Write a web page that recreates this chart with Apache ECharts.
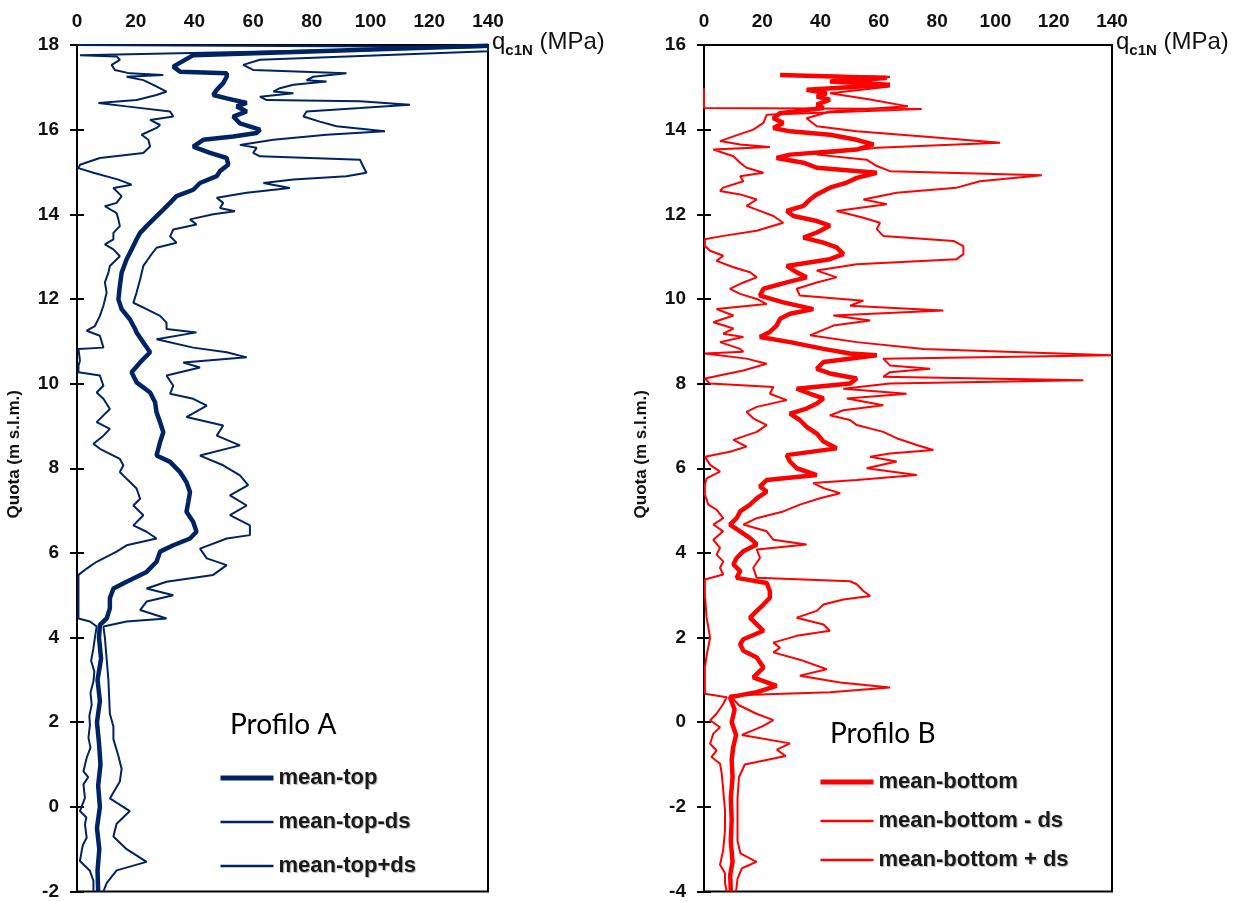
<!DOCTYPE html>
<html>
<head>
<meta charset="utf-8">
<script src="https://cdn.jsdelivr.net/npm/echarts@6/dist/echarts.min.js"></script>
<style>html,body{margin:0;padding:0;background:#fff}#c{width:1252px;height:901px}</style>
</head>
<body>
<div id="c"></div>
<script>
// ---- tick labels / ranges ----
const xTicksA = [0, 140, 20];
const yTicksA = [-2, 18, 2];
const xTicksB = [0, 140, 20];
const yTicksB = [-4, 16, 2];

// ---- Profilo A : [quota (m s.l.m.), qc1N (MPa)] ----
const meanTop = [[17.98,140],[17.76,39.6],[17.49,32.8],[17.37,35.1],[17.33,51.0],[17.25,51.0],[17.10,49.8],[16.94,47.6],[16.82,46.4],[16.74,51.0],[16.63,57.8],[16.55,54.4],[16.43,57.8],[16.31,53.2],[16.15,55.5],[16.00,62.3],[15.92,61.2],[15.84,53.2],[15.76,43.0],[15.60,39.6],[15.45,45.3],[15.33,51.0],[15.17,51.5],[15.02,48.7],[14.90,47.6],[14.74,41.9],[14.58,39.6],[14.43,33.9],[14.27,31.7],[14.11,29.4],[13.88,26.0],[13.72,23.7],[13.56,21.5],[13.41,20.3],[13.17,18.6],[12.94,16.9],[12.62,15.2],[12.31,14.6],[11.99,14.1],[11.76,15.2],[11.52,18.0],[11.29,19.8],[11.21,20.3],[10.97,22.6],[10.74,24.9],[10.50,21.5],[10.27,18.6],[10.03,20.3],[9.79,24.9],[9.56,26.6],[9.32,27.1],[9.09,28.3],[8.85,29.4],[8.62,28.3],[8.30,27.1],[8.15,31.7],[7.91,35.1],[7.67,37.3],[7.44,38.5],[7.20,37.9],[6.97,37.3],[6.73,39.6],[6.50,40.7],[6.34,38.5],[6.18,32.8],[6.03,28.3],[5.79,27.1],[5.55,23.7],[5.32,16.9],[5.16,12.4],[4.93,11.2],[4.69,11.2],[4.45,10.1],[4.30,7.8],[4.0,7.5],[3.5,8.2],[3.0,7.0],[2.5,7.8],[2.0,6.8],[1.5,7.5],[1.0,8.0],[0.5,7.2],[0.0,7.8],[-0.5,6.8],[-1.0,7.6],[-1.5,7.0],[-2.0,7.2]];

const meanTopMinus = [[18.00,0],[17.95,140],[17.76,1.0],[17.73,13.5],[17.65,14.6],[17.53,11.8],[17.41,12.9],[17.33,18.0],[17.29,29.4],[17.25,16.9],[17.17,22.6],[17.06,26.0],[16.90,30.5],[16.82,27.1],[16.70,20.3],[16.63,7.3],[16.55,16.9],[16.43,31.7],[16.31,32.8],[16.23,24.9],[16.11,28.3],[16.04,27.1],[15.88,22.0],[15.76,24.3],[15.60,24.9],[15.45,22.6],[15.33,7.8],[15.17,1.0],[15.09,0.5],[14.98,5.6],[14.82,14.1],[14.70,18.6],[14.62,12.4],[14.43,15.2],[14.27,13.5],[14.19,9.5],[14.03,13.5],[13.88,14.1],[13.72,14.6],[13.56,12.4],[13.41,12.4],[13.29,9.5],[13.17,12.4],[13.01,14.6],[12.78,11.2],[12.62,10.7],[12.39,9.5],[12.15,10.1],[11.84,9.0],[11.60,7.8],[11.36,6.1],[11.25,3.3],[11.13,7.8],[10.85,9.0],[10.82,0.5],[10.54,1.0],[10.42,0.5],[10.27,0.5],[10.19,7.8],[9.95,9.0],[9.79,6.7],[9.64,9.0],[9.40,11.2],[9.25,9.0],[9.09,6.7],[8.93,11.2],[8.77,9.0],[8.58,5.6],[8.46,7.8],[8.30,12.4],[8.22,14.6],[8.07,15.8],[7.91,14.6],[7.75,16.9],[7.52,20.3],[7.28,21.5],[7.12,19.2],[6.89,22.6],[6.65,19.2],[6.50,23.7],[6.34,27.1],[6.18,16.9],[6.03,13.5],[5.79,6.7],[5.63,3.3],[5.48,0.5],[5.24,0.5],[4.93,0.5],[4.45,0.5],[4.38,4.4],[4.26,6.7],[4.00,6.1],[3.75,5.6],[3.45,4.8],[3.20,5.9],[2.96,5.6],[2.70,4.6],[2.41,5.0],[2.15,4.2],[1.94,4.4],[1.63,3.9],[1.40,4.6],[1.16,3.3],[0.84,2.2],[0.70,3.8],[0.53,2.2],[0.21,2.7],[-0.10,1.0],[-0.25,3.2],[-0.41,2.7],[-0.73,3.3],[-0.90,2.0],[-1.04,1.6],[-1.28,1.0],[-1.51,4.4],[-1.75,5.6],[-1.98,5.6]];

const meanTopPlus = [[17.98,140],[17.85,140],[17.65,62.3],[17.53,56.6],[17.41,60.0],[17.33,91.8],[17.25,80.5],[17.17,78.2],[17.14,85.0],[17.06,73.7],[16.98,69.1],[16.90,66.9],[16.86,73.7],[16.78,62.3],[16.70,64.6],[16.67,96.4],[16.59,113.4],[16.51,96.4],[16.43,78.2],[16.31,77.1],[16.19,82.7],[16.08,88.4],[15.96,104.9],[15.88,85.0],[15.76,66.9],[15.64,55.5],[15.57,61.2],[15.45,60.0],[15.37,62.3],[15.29,96.4],[15.13,97.5],[14.98,98.6],[14.90,91.8],[14.82,73.7],[14.74,63.5],[14.62,72.5],[14.51,57.8],[14.39,47.6],[14.27,49.8],[14.15,48.7],[14.07,53.8],[14.00,46.4],[13.88,38.5],[13.76,40.7],[13.64,32.8],[13.48,31.7],[13.33,33.9],[13.21,27.1],[13.01,24.9],[12.78,22.6],[12.46,21.5],[12.15,20.3],[11.91,19.2],[11.76,23.7],[11.60,28.3],[11.44,30.5],[11.29,30.5],[11.21,40.7],[11.05,27.1],[10.85,39.6],[10.74,51.0],[10.62,57.8],[10.50,36.2],[10.38,41.9],[10.19,30.5],[9.95,32.8],[9.76,31.7],[9.64,39.6],[9.48,44.2],[9.21,37.3],[9.01,49.8],[8.77,47.6],[8.54,55.5],[8.30,41.9],[8.07,49.8],[7.83,55.5],[7.60,58.3],[7.36,52.1],[7.12,57.8],[6.89,52.1],[6.65,58.9],[6.42,58.9],[6.34,51.0],[6.10,41.9],[5.87,44.2],[5.71,51.0],[5.48,46.4],[5.32,30.5],[5.16,23.7],[5.00,32.8],[4.85,23.7],[4.65,21.5],[4.45,30.5],[4.38,16.9],[4.26,9.0],[4.0,9.5],[3.5,10.1],[3.0,10.7],[2.5,11.0],[2.2,11.2],[1.9,12.4],[1.6,12.4],[1.2,14.1],[0.9,15.2],[0.6,14.6],[0.2,11.2],[-0.1,18.0],[-0.4,13.5],[-0.7,12.4],[-1.0,16.9],[-1.3,23.7],[-1.5,13.5],[-1.8,10.1],[-2.0,9.0]];

// ---- Profilo B : [quota (m s.l.m.), qc1N (MPa)] ----
const meanBottom = [[15.29,26.1],[15.22,62.7],[15.14,43.2],[15.06,63.8],[14.94,35.2],[14.86,42.1],[14.78,38.7],[14.71,43.2],[14.59,38.7],[14.51,41.0],[14.39,26.1],[14.27,23.8],[14.16,27.2],[14.04,23.8],[13.96,29.5],[13.88,43.2],[13.76,52.4],[13.65,58.1],[13.53,52.4],[13.41,29.5],[13.33,24.9],[13.22,34.1],[13.10,38.7],[12.98,59.3],[12.86,52.4],[12.75,49.0],[12.63,43.2],[12.47,38.7],[12.35,36.4],[12.20,34.1],[12.08,28.4],[11.96,30.7],[11.84,38.7],[11.73,43.2],[11.57,38.7],[11.45,34.1],[11.33,41.0],[11.22,45.5],[11.06,47.8],[10.94,43.2],[10.78,28.4],[10.63,31.8],[10.51,35.2],[10.39,28.4],[10.24,20.4],[10.08,19.2],[9.92,27.2],[9.76,37.5],[9.65,29.5],[9.53,26.1],[9.37,24.9],[9.22,22.6],[9.10,19.2],[8.98,29.5],[8.82,41.0],[8.71,50.1],[8.67,59.3],[8.51,41.0],[8.35,38.7],[8.24,43.2],[8.12,52.4],[8.00,50.1],[7.88,31.8],[7.76,36.4],[7.65,41.0],[7.53,38.7],[7.41,35.2],[7.29,29.5],[7.14,32.9],[6.98,35.2],[6.82,38.7],[6.63,41.0],[6.47,45.5],[6.31,28.4],[6.16,29.5],[6.00,31.8],[5.84,38.7],[5.72,21.5],[5.57,19.2],[5.45,21.5],[5.29,18.1],[5.14,15.8],[4.98,12.4],[4.82,11.2],[4.67,8.9],[4.51,12.4],[4.35,15.8],[4.20,18.1],[4.04,13.5],[3.88,11.2],[3.73,10.1],[3.57,12.4],[3.41,11.2],[3.29,21.5],[3.10,22.6],[2.94,22.6],[2.78,20.4],[2.63,18.1],[2.47,15.8],[2.31,18.1],[2.16,20.4],[1.96,13.5],[1.84,12.4],[1.69,13.5],[1.53,18.1],[1.29,20.4],[1.06,16.9],[0.86,24.9],[0.71,18.1],[0.59,8.9],[0.3,10.5],[0.0,9.5],[-0.3,11.0],[-0.6,10.0],[-0.9,9.5],[-1.3,9.8],[-1.8,9.2],[-2.3,9.5],[-2.8,9.2],[-3.3,9.8],[-3.6,9.0],[-4.0,9.2]];

const meanBottomMinus = [[14.98,0],[14.51,0],[14.49,74.7],[14.35,21.5],[14.16,20.4],[14.00,16.9],[13.84,10.1],[13.73,5.5],[13.65,12.4],[13.59,22.6],[13.53,3.2],[13.37,10.1],[13.22,12.4],[13.10,14.6],[12.98,20.4],[12.90,12.4],[12.78,13.5],[12.63,6.6],[12.55,5.5],[12.47,12.4],[12.35,18.1],[12.20,14.6],[12.08,19.2],[11.96,23.8],[11.80,27.2],[11.73,23.8],[11.61,18.1],[11.49,6.6],[11.41,0.3],[11.25,0.3],[11.14,2.1],[11.02,6.6],[10.90,4.3],[10.75,10.1],[10.63,15.8],[10.51,18.1],[10.39,13.5],[10.24,8.9],[10.12,12.4],[10.00,18.1],[9.88,21.5],[9.76,4.3],[9.61,10.1],[9.45,3.2],[9.30,10.1],[9.18,6.6],[9.10,13.5],[8.98,5.5],[8.82,12.4],[8.75,13.5],[8.71,0.3],[8.59,14.6],[8.47,21.5],[8.31,13.5],[8.12,0.3],[8.00,2.1],[7.92,23.8],[7.76,22.6],[7.61,28.4],[7.45,18.1],[7.33,14.6],[7.18,16.9],[7.02,21.5],[6.86,18.1],[6.67,10.1],[6.51,14.6],[6.39,8.9],[6.27,0.3],[6.08,2.1],[5.92,5.5],[5.76,0.9],[5.61,0.3],[5.37,0.3],[5.14,1.5],[5.02,4.3],[4.82,6.6],[4.67,3.2],[4.51,6.6],[4.31,3.2],[4.12,5.5],[3.96,4.3],[3.80,6.6],[3.65,5.5],[3.49,6.6],[3.37,0.3],[3.02,0.3],[2.47,0.9],[2.00,2.1],[1.57,0.9],[1.29,0.3],[0.90,0.3],[0.67,0.3],[0.59,7.8],[0.43,6.6],[0.20,4.3],[0.04,2.1],[-0.12,5.5],[-0.27,3.2],[-0.51,2.1],[-0.67,4.3],[-0.82,2.6],[-0.98,5.5],[-1.22,6.1],[-1.61,6.6],[-2.08,7.2],[-2.55,7.2],[-3.02,6.6],[-3.37,5.5],[-3.57,7.2],[-3.80,7.2],[-4.0,7.8]];

const meanBottomPlus = [[15.29,29.5],[15.25,63.8],[15.14,55.8],[15.02,63.8],[14.86,43.2],[14.71,57.0],[14.55,70.0],[14.43,43.2],[14.27,35.2],[14.08,38.7],[13.96,52.4],[13.84,75.3],[13.69,101.6],[13.57,59.3],[13.41,38.7],[13.29,55.8],[13.14,59.3],[13.02,63.8],[12.92,115.9],[12.78,94.7],[12.63,86.7],[12.51,66.1],[12.35,54.7],[12.24,62.7],[12.08,45.5],[11.92,54.7],[11.80,60.4],[11.65,59.3],[11.49,61.5],[11.37,85.6],[11.25,89.0],[11.06,89.0],[10.94,86.7],[10.82,52.4],[10.67,38.7],[10.51,45.5],[10.39,38.7],[10.24,31.8],[10.08,32.9],[9.96,54.7],[9.84,50.1],[9.73,82.1],[9.61,44.4],[9.49,57.0],[9.37,44.4],[9.14,36.4],[8.98,52.4],[8.82,75.3],[8.67,140],[8.59,61.5],[8.43,63.8],[8.35,77.6],[8.27,63.8],[8.16,61.5],[8.08,130.2],[8.00,63.8],[7.88,47.8],[7.76,69.5],[7.65,49.0],[7.49,61.5],[7.37,47.8],[7.25,43.2],[7.14,50.1],[7.02,52.4],[6.86,61.5],[6.71,66.1],[6.55,73.0],[6.43,78.7],[6.35,63.8],[6.27,57.0],[6.16,66.1],[6.00,55.8],[5.84,73.0],[5.72,52.4],[5.65,37.5],[5.53,41.0],[5.41,46.7],[5.29,39.8],[5.14,32.9],[4.98,27.2],[4.82,18.1],[4.67,13.5],[4.51,21.5],[4.31,23.8],[4.20,35.2],[4.08,18.1],[3.88,19.2],[3.65,16.9],[3.41,18.1],[3.33,50.1],[3.26,52.4],[3.10,54.7],[2.98,57.0],[2.90,47.8],[2.78,41.0],[2.63,38.7],[2.47,31.8],[2.31,41.0],[2.16,43.2],[2.04,31.8],[1.88,23.8],[1.76,26.1],[1.65,23.8],[1.45,34.1],[1.25,42.1],[1.10,32.9],[0.94,46.7],[0.82,63.8],[0.71,43.2],[0.63,8.9],[0.4,12.0],[0.2,18.0],[0.05,23.8],[-0.1,20.0],[-0.3,13.0],[-0.5,29.5],[-0.65,25.0],[-0.8,28.0],[-1.0,14.0],[-1.3,12.0],[-1.8,11.5],[-2.3,11.5],[-2.8,11.5],[-3.1,12.5],[-3.3,18.0],[-3.45,13.0],[-3.7,11.5],[-4.0,11.0]];

const seriesNamesA = ['mean-top', 'mean-top-ds', 'mean-top+ds'];
const seriesNamesB = ['mean-bottom', 'mean-bottom - ds', 'mean-bottom + ds'];
const xAxisTitle = '{q|q}{s|c1N}{q| (MPa)}';
const yAxisTitle = 'Quota (m s.l.m.)';

const NAVY = '#002463', RED = '#ff0000';
const toXY = arr => arr.map(p => [p[1], p[0]]);
const FONT = "'Liberation Sans', Arial, sans-serif";

function xAx(grid, t) {
  return {
    type: 'value', gridIndex: grid, position: 'top', min: t[0], max: t[1], interval: t[2],
    name: xAxisTitle, nameLocation: 'end', nameGap: 4, nameMoveOverlap: false,
    nameTextStyle: { padding: [0,0,6,0], rich: {
      q: { fontFamily: FONT, fontSize: 24, color: '#111', verticalAlign: 'bottom' },
      s: { fontFamily: FONT, fontSize: 15, fontWeight: 'bold', color: '#111', verticalAlign: 'bottom', padding: [0,0,-4,0] }
    }},
    axisLine: { show: true, onZero: false, lineStyle: { color: '#000', width: 2 } },
    axisTick: { show: false },
    splitLine: { show: false },
    axisLabel: { margin: 14, fontFamily: FONT, fontWeight: 'bold', fontSize: 19, color: '#111' }
  };
}
function yAx(grid, t, withLabels) {
  const a = {
    type: 'value', gridIndex: grid, position: 'left', min: t[0], max: t[1], interval: t[2],
    axisLine: { show: withLabels, onZero: false, lineStyle: { color: '#000', width: 2 } },
    axisTick: { show: true, inside: !withLabels, length: 7, lineStyle: { color: '#000', width: 2 } },
    splitLine: { show: false },
    axisLabel: { show: withLabels, margin: 18, fontFamily: FONT, fontWeight: 'bold', fontSize: 19, color: '#111' }
  };
  if (withLabels) {
    a.name = yAxisTitle; a.nameLocation = 'middle'; a.nameGap = 54;
    a.nameTextStyle = { fontFamily: FONT, fontWeight: 'bold', fontSize: 17, color: '#111', padding: [0, 0, 0, 28] };
  }
  return a;
}
function ser(name, data, color, width, xi, yi) {
  return { name, type: 'line', data: toXY(data), xAxisIndex: xi, yAxisIndex: yi,
    symbol: 'none', showSymbol: false, clip: true, animation: false,
    lineStyle: { color, width }, itemStyle: { color } };
}
const legendText = { fontFamily: FONT, fontWeight: 'bold', fontSize: 22, color: '#1a1a1a',
  textShadowColor: 'rgba(0,0,0,0.3)', textShadowOffsetX: 1, textShadowOffsetY: 1, textShadowBlur: 1 };
const legendItems = (names, color) => names.map((n, i) => ({ name: n, lineStyle: { width: i === 0 ? 5 : 2.5, color } }));

const chart = echarts.init(document.getElementById('c'), null, { renderer: 'canvas' });
chart.setOption({
  backgroundColor: '#fff',
  animation: false,
  grid: [
    { left: 77, top: 45, width: 411, height: 849, show: true, borderColor: '#000', borderWidth: 2, backgroundColor: 'transparent' },
    { left: 704, top: 45, width: 408, height: 850, show: true, borderColor: '#000', borderWidth: 2, backgroundColor: 'transparent' }
  ],
  xAxis: [xAx(0, xTicksA), xAx(1, xTicksB)],
  yAxis: [yAx(0, yTicksA, true), yAx(0, yTicksA, false), yAx(1, yTicksB, true), yAx(1, yTicksB, false)],
  legend: [
    { orient: 'vertical', left: 218, top: 767, padding: 0, itemWidth: 53, itemHeight: 14, itemGap: 22,
      data: legendItems(seriesNamesA, NAVY), textStyle: legendText, selectedMode: false, itemStyle: { opacity: 0 } },
    { orient: 'vertical', left: 818, top: 771, padding: 0, itemWidth: 53, itemHeight: 14, itemGap: 17,
      data: legendItems(seriesNamesB, RED), textStyle: legendText, selectedMode: false, itemStyle: { opacity: 0 } }
  ],
  graphic: [
    { type: 'text', left: 230, top: 711, style: { text: 'Profilo A', font: '28px Lato, "Open Sans", sans-serif', fill: '#000' } },
    { type: 'text', left: 830, top: 720, style: { text: 'Profilo B', font: '28px Lato, "Open Sans", sans-serif', fill: '#000' } }
  ],
  series: [
    ser(seriesNamesA[1], meanTopMinus, NAVY, 2, 0, 0),
    ser(seriesNamesA[2], meanTopPlus, NAVY, 2, 0, 0),
    ser(seriesNamesA[0], meanTop, NAVY, 4.5, 0, 0),
    ser(seriesNamesB[1], meanBottomMinus, RED, 2, 1, 2),
    ser(seriesNamesB[2], meanBottomPlus, RED, 2, 1, 2),
    ser(seriesNamesB[0], meanBottom, RED, 4.5, 1, 2)
  ]
});
</script>
</body>
</html>
